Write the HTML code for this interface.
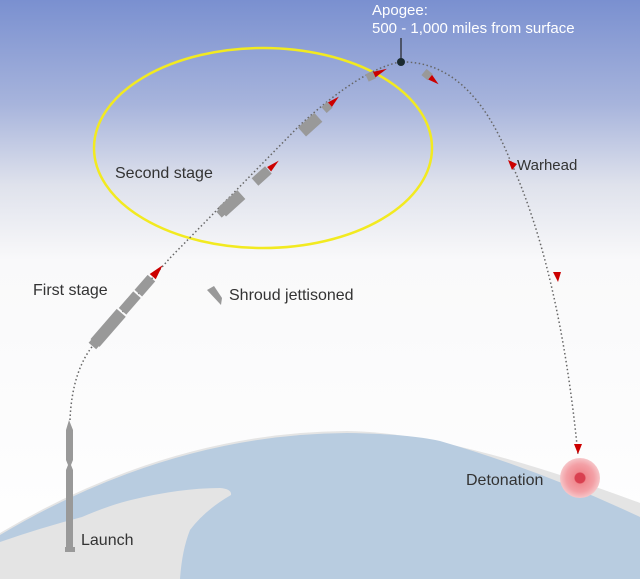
<!DOCTYPE html>
<html><head><meta charset="utf-8"><style>
html,body{margin:0;padding:0;width:640px;height:579px;overflow:hidden}
text{font-family:"Liberation Sans",sans-serif}
</style></head><body>
<svg width="640" height="579" viewBox="0 0 640 579" xmlns="http://www.w3.org/2000/svg">
<defs>
<linearGradient id="sky" x1="0" y1="0" x2="0" y2="1">
<stop offset="0" stop-color="#7a90d0"/>
<stop offset="0.18" stop-color="#a7b4dc"/>
<stop offset="0.32" stop-color="#dfe2ec"/>
<stop offset="0.45" stop-color="#f9f9fa"/>
<stop offset="1" stop-color="#ffffff"/>
</linearGradient>
<radialGradient id="det"><stop offset="0" stop-color="#d94050"/><stop offset="0.25" stop-color="#d94050"/><stop offset="0.3" stop-color="#f08a90"/><stop offset="0.7" stop-color="#f3a0a6"/><stop offset="1" stop-color="#f6c6c9"/></radialGradient>
</defs>
<rect width="640" height="579" fill="url(#sky)"/>
<!-- earth -->
<path d="M0,533 Q170,432 347,431 Q450,432 640,503 L640,579 L0,579 Z" fill="#e4e4e4"/>
<path d="M0,535 Q170,434 347,433 Q410,434 440,441 Q540,470 640,517 L640,579 L0,579 Z" fill="#b8cce0"/>
<!-- land -->
<path d="M0,542 Q40,528 82,517 Q110,505 131,500 Q180,488 220,488 Q232,489 231,495 Q205,510 190,530 Q182,550 180,579 L0,579 Z" fill="#e4e4e4"/>
<!-- ellipse -->
<ellipse cx="263" cy="148" rx="169" ry="100" fill="none" stroke="#f2ea20" stroke-width="2.5"/>
<!-- trajectory -->
<path d="M70,420 Q72,370 95,343 L170,258 L300,125 Q360,70 400,62 Q470,60 510,160 Q560,270 578,455" fill="none" stroke="#666" stroke-width="1.5" stroke-dasharray="1.5 2.5"/>
<!-- launch rocket -->
<g fill="#999">
<path d="M69,420 L73,430 L73,460 L71,465 L73,470 L73,547 L66,547 L66,470 L68,465 L66,460 L66,430 Z"/>
<rect x="65" y="547" width="10" height="5"/>
</g>
<!-- first stage -->
<g transform="translate(95,343) rotate(-49)" fill="#999">
<rect x="0" y="-6" width="40" height="12"/>
<rect x="42" y="-5" width="22" height="10"/>
<rect x="66" y="-5" width="20" height="10"/>
<rect x="-4" y="-5" width="5" height="10"/>
<path d="M88,-4 L103,0 L88,4 Z" fill="#c00"/>
</g>
<!-- second stage pieces -->
<g transform="translate(222,212) rotate(-42)" fill="#999"><rect x="0" y="-6" width="26" height="12"/><rect x="-4" y="-4" width="5" height="8"/></g>
<g transform="translate(255,182) rotate(-42)" fill="#999"><rect x="0" y="-5" width="18" height="10"/><path d="M19,-3 L32,0 L19,3 Z" fill="#c00"/></g>
<g transform="translate(302,132) rotate(-42)" fill="#999"><rect x="0" y="-6" width="22" height="12"/></g>
<g transform="translate(324,110) rotate(-42)" fill="#999"><rect x="0" y="-4" width="8" height="8"/><path d="M8,-3 L20,0 L8,3 Z" fill="#c00"/></g>
<g transform="translate(367,78) rotate(-25)" fill="#999"><rect x="0" y="-4" width="8" height="8"/><path d="M8,-3 L22,0 L8,3 Z" fill="#c00"/></g>
<g transform="translate(424,72) rotate(40)" fill="#999"><rect x="0" y="-4" width="8" height="8"/><path d="M8,-3 L19,0 L8,3 Z" fill="#c00"/></g>
<path d="M508,160 L517,164 L512,170 Z" fill="#c00"/>
<path d="M553,272 L561,272 L558,282 Z" fill="#c00"/>
<path d="M574,444 L582,444 L578,454 Z" fill="#c00"/>
<!-- shroud -->
<path d="M207,290 L214,286 L222,298 L221,305 Z" fill="#999"/>
<!-- apogee -->
<line x1="401" y1="38" x2="401" y2="62" stroke="#222" stroke-width="1.2"/>
<circle cx="401" cy="62" r="4" fill="#1a2a30"/>
<!-- detonation -->
<circle cx="580" cy="478" r="20" fill="url(#det)"/>
<!-- labels -->
<text x="372" y="15" font-size="15" fill="#fff">Apogee:</text>
<text x="372" y="33" font-size="15" fill="#fff">500 - 1,000 miles from surface</text>
<text x="115" y="178" font-size="16" fill="#333">Second stage</text>
<text x="517" y="170" font-size="15" fill="#333">Warhead</text>
<text x="33" y="295" font-size="16" fill="#333">First stage</text>
<text x="229" y="300" font-size="16" fill="#333">Shroud jettisoned</text>
<text x="466" y="485" font-size="16" fill="#333">Detonation</text>
<text x="81" y="545" font-size="16" fill="#333">Launch</text>
</svg>
</body></html>
